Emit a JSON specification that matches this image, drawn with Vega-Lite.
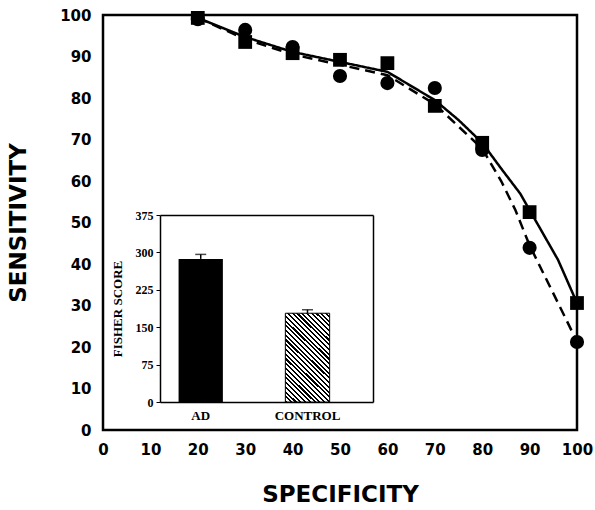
{
  "$schema": "https://vega.github.io/schema/vega-lite/v6.json",
  "width": 474,
  "height": 415,
  "autosize": {"type": "none"},
  "padding": {"left": 103, "top": 15, "right": 18, "bottom": 80},
  "background": "white",
  "config": {
    "view": {"stroke": "black", "strokeWidth": 2.5},
    "axis": {"grid": false, "labelColor": "black", "titleColor": "black"}
  },
  "datasets": {
    "roc": [
      {"specificity": 20, "sensitivity": 99.3, "marker": "square"},
      {"specificity": 30, "sensitivity": 93.5, "marker": "square"},
      {"specificity": 40, "sensitivity": 90.8, "marker": "square"},
      {"specificity": 50, "sensitivity": 89.2, "marker": "square"},
      {"specificity": 60, "sensitivity": 88.4, "marker": "square"},
      {"specificity": 70, "sensitivity": 78.1, "marker": "square"},
      {"specificity": 80, "sensitivity": 69.2, "marker": "square"},
      {"specificity": 90, "sensitivity": 52.5, "marker": "square"},
      {"specificity": 100, "sensitivity": 30.6, "marker": "square"},
      {"specificity": 20, "sensitivity": 99.0, "marker": "circle"},
      {"specificity": 30, "sensitivity": 96.4, "marker": "circle"},
      {"specificity": 40, "sensitivity": 92.3, "marker": "circle"},
      {"specificity": 50, "sensitivity": 85.3, "marker": "circle"},
      {"specificity": 60, "sensitivity": 83.6, "marker": "circle"},
      {"specificity": 70, "sensitivity": 82.4, "marker": "circle"},
      {"specificity": 80, "sensitivity": 67.5, "marker": "circle"},
      {"specificity": 90, "sensitivity": 43.9, "marker": "circle"},
      {"specificity": 100, "sensitivity": 21.2, "marker": "circle"}
    ],
    "curves": [
      {"specificity": 20, "sensitivity": 99.3, "curve": "solid"},
      {"specificity": 25, "sensitivity": 97.0, "curve": "solid"},
      {"specificity": 30, "sensitivity": 94.7, "curve": "solid"},
      {"specificity": 40, "sensitivity": 91.1, "curve": "solid"},
      {"specificity": 50, "sensitivity": 88.7, "curve": "solid"},
      {"specificity": 60, "sensitivity": 86.3, "curve": "solid"},
      {"specificity": 70, "sensitivity": 79.5, "curve": "solid"},
      {"specificity": 75, "sensitivity": 74.7, "curve": "solid"},
      {"specificity": 80, "sensitivity": 69.2, "curve": "solid"},
      {"specificity": 84, "sensitivity": 63.0, "curve": "solid"},
      {"specificity": 88, "sensitivity": 57.0, "curve": "solid"},
      {"specificity": 90, "sensitivity": 53.0, "curve": "solid"},
      {"specificity": 96, "sensitivity": 41.0, "curve": "solid"},
      {"specificity": 100, "sensitivity": 30.6, "curve": "solid"},
      {"specificity": 20, "sensitivity": 99.3, "curve": "dashed"},
      {"specificity": 30, "sensitivity": 94.2, "curve": "dashed"},
      {"specificity": 40, "sensitivity": 90.5, "curve": "dashed"},
      {"specificity": 50, "sensitivity": 88.0, "curve": "dashed"},
      {"specificity": 60, "sensitivity": 85.5, "curve": "dashed"},
      {"specificity": 70, "sensitivity": 78.5, "curve": "dashed"},
      {"specificity": 80, "sensitivity": 67.8, "curve": "dashed"},
      {"specificity": 84, "sensitivity": 60.0, "curve": "dashed"},
      {"specificity": 87, "sensitivity": 53.0, "curve": "dashed"},
      {"specificity": 90, "sensitivity": 44.5, "curve": "dashed"},
      {"specificity": 98.5, "sensitivity": 24.8, "curve": "dashed"},
      {"specificity": 100, "sensitivity": 21.2, "curve": "dashed"}
    ],
    "fisher": [
      {"group": "AD", "score": 287, "upper": 296},
      {"group": "CONTROL", "score": 178, "upper": 185}
    ]
  },
  "layer": [
    {
      "encoding": {
        "x": {
          "field": "specificity", "type": "quantitative",
          "scale": {"domain": [0, 100], "nice": false},
          "axis": {
            "orient": "bottom", "values": [0, 10, 20, 30, 40, 50, 60, 70, 80, 90, 100],
            "ticks": false, "domain": false, "labelFlush": false,
            "labelFont": "DejaVu Sans", "labelFontWeight": "bold", "labelFontSize": 15, "labelPadding": 12,
            "title": "SPECIFICITY", "titleFont": "DejaVu Sans", "titleFontWeight": "bold", "titleFontSize": 23, "titlePadding": 26
          }
        },
        "y": {
          "field": "sensitivity", "type": "quantitative",
          "scale": {"domain": [0, 100], "nice": false},
          "axis": {
            "orient": "left", "values": [0, 10, 20, 30, 40, 50, 60, 70, 80, 90, 100],
            "ticks": false, "domain": false, "labelFlush": false,
            "labelFont": "DejaVu Sans", "labelFontWeight": "bold", "labelFontSize": 15, "labelPadding": 12,
            "title": "SENSITIVITY", "titleFont": "DejaVu Sans", "titleFontWeight": "bold", "titleFontSize": 23, "titlePadding": 29
          }
        }
      },
      "layer": [
        {
          "data": {"name": "curves"},
          "mark": {"type": "line", "color": "black", "strokeWidth": 2.5},
          "encoding": {
            "strokeDash": {
              "field": "curve", "type": "nominal",
              "scale": {"domain": ["solid", "dashed"], "range": [[1, 0], [10, 6]]},
              "legend": null
            }
          }
        },
        {
          "data": {"name": "roc"},
          "mark": {"type": "point", "filled": true, "color": "black", "opacity": 1},
          "encoding": {
            "shape": {
              "field": "marker", "type": "nominal",
              "scale": {"domain": ["square", "circle"], "range": ["square", "circle"]},
              "legend": null
            },
            "size": {
              "field": "marker", "type": "nominal",
              "scale": {"domain": ["square", "circle"], "range": [190, 200]},
              "legend": null
            }
          }
        }
      ]
    },
    {
      "data": {"name": "fisher"},
      "encoding": {
        "x": {
          "field": "group", "type": "nominal",
          "scale": {"domain": ["AD", "CONTROL"], "range": [57, 270], "paddingInner": 0.585, "paddingOuter": 0.29, "align": 0.3},
          "axis": {
            "orient": "bottom", "offset": -28, "title": null, "labelAngle": 0, "ticks": false,
            "domainColor": "black", "domainWidth": 1.5,
            "labelFont": "Liberation Serif", "labelFontWeight": "bold", "labelFontSize": 13, "labelPadding": 7
          }
        },
        "y": {
          "field": "score", "type": "quantitative",
          "scale": {"domain": [0, 375], "range": [387, 200], "nice": false},
          "axis": {
            "orient": "left", "offset": -57, "values": [0, 75, 150, 225, 300, 375],
            "tickSize": 4, "tickColor": "black", "domainColor": "black", "domainWidth": 1.5, "labelFlush": false,
            "labelFont": "Liberation Serif", "labelFontWeight": "bold", "labelFontSize": 12, "labelPadding": 3,
            "title": "FISHER SCORE", "titleFont": "Liberation Serif", "titleFontWeight": "bold", "titleFontSize": 13, "titlePadding": 11
          }
        }
      },
      "layer": [
        {
          "transform": [{"filter": "datum.group === 'AD'"}],
          "mark": {"type": "bar", "color": "black"}
        },
        {
          "transform": [{"filter": "datum.group === 'CONTROL'"}],
          "mark": {
            "type": "bar", "stroke": "black", "strokeWidth": 1,
            "fill": {
              "gradient": "linear", "x1": 0, "y1": 1, "x2": 0.593, "y2": -0.2,
              "stops": [
                {"offset": 0, "color": "black"}, {"offset": 0.016, "color": "black"}, {"offset": 0.016, "color": "white"}, {"offset": 0.0357, "color": "white"},
                {"offset": 0.0357, "color": "black"}, {"offset": 0.0517, "color": "black"}, {"offset": 0.0517, "color": "white"}, {"offset": 0.0714, "color": "white"},
                {"offset": 0.0714, "color": "black"}, {"offset": 0.0874, "color": "black"}, {"offset": 0.0874, "color": "white"}, {"offset": 0.1071, "color": "white"},
                {"offset": 0.1071, "color": "black"}, {"offset": 0.1231, "color": "black"}, {"offset": 0.1231, "color": "white"}, {"offset": 0.1429, "color": "white"},
                {"offset": 0.1429, "color": "black"}, {"offset": 0.1589, "color": "black"}, {"offset": 0.1589, "color": "white"}, {"offset": 0.1786, "color": "white"},
                {"offset": 0.1786, "color": "black"}, {"offset": 0.1946, "color": "black"}, {"offset": 0.1946, "color": "white"}, {"offset": 0.2143, "color": "white"},
                {"offset": 0.2143, "color": "black"}, {"offset": 0.2303, "color": "black"}, {"offset": 0.2303, "color": "white"}, {"offset": 0.25, "color": "white"},
                {"offset": 0.25, "color": "black"}, {"offset": 0.266, "color": "black"}, {"offset": 0.266, "color": "white"}, {"offset": 0.2857, "color": "white"},
                {"offset": 0.2857, "color": "black"}, {"offset": 0.3017, "color": "black"}, {"offset": 0.3017, "color": "white"}, {"offset": 0.3214, "color": "white"},
                {"offset": 0.3214, "color": "black"}, {"offset": 0.3374, "color": "black"}, {"offset": 0.3374, "color": "white"}, {"offset": 0.3571, "color": "white"},
                {"offset": 0.3571, "color": "black"}, {"offset": 0.3731, "color": "black"}, {"offset": 0.3731, "color": "white"}, {"offset": 0.3929, "color": "white"},
                {"offset": 0.3929, "color": "black"}, {"offset": 0.4089, "color": "black"}, {"offset": 0.4089, "color": "white"}, {"offset": 0.4286, "color": "white"},
                {"offset": 0.4286, "color": "black"}, {"offset": 0.4446, "color": "black"}, {"offset": 0.4446, "color": "white"}, {"offset": 0.4643, "color": "white"},
                {"offset": 0.4643, "color": "black"}, {"offset": 0.4803, "color": "black"}, {"offset": 0.4803, "color": "white"}, {"offset": 0.5, "color": "white"},
                {"offset": 0.5, "color": "black"}, {"offset": 0.516, "color": "black"}, {"offset": 0.516, "color": "white"}, {"offset": 0.5357, "color": "white"},
                {"offset": 0.5357, "color": "black"}, {"offset": 0.5517, "color": "black"}, {"offset": 0.5517, "color": "white"}, {"offset": 0.5714, "color": "white"},
                {"offset": 0.5714, "color": "black"}, {"offset": 0.5874, "color": "black"}, {"offset": 0.5874, "color": "white"}, {"offset": 0.6071, "color": "white"},
                {"offset": 0.6071, "color": "black"}, {"offset": 0.6231, "color": "black"}, {"offset": 0.6231, "color": "white"}, {"offset": 0.6429, "color": "white"},
                {"offset": 0.6429, "color": "black"}, {"offset": 0.6589, "color": "black"}, {"offset": 0.6589, "color": "white"}, {"offset": 0.6786, "color": "white"},
                {"offset": 0.6786, "color": "black"}, {"offset": 0.6946, "color": "black"}, {"offset": 0.6946, "color": "white"}, {"offset": 0.7143, "color": "white"},
                {"offset": 0.7143, "color": "black"}, {"offset": 0.7303, "color": "black"}, {"offset": 0.7303, "color": "white"}, {"offset": 0.75, "color": "white"},
                {"offset": 0.75, "color": "black"}, {"offset": 0.766, "color": "black"}, {"offset": 0.766, "color": "white"}, {"offset": 0.7857, "color": "white"},
                {"offset": 0.7857, "color": "black"}, {"offset": 0.8017, "color": "black"}, {"offset": 0.8017, "color": "white"}, {"offset": 0.8214, "color": "white"},
                {"offset": 0.8214, "color": "black"}, {"offset": 0.8374, "color": "black"}, {"offset": 0.8374, "color": "white"}, {"offset": 0.8571, "color": "white"},
                {"offset": 0.8571, "color": "black"}, {"offset": 0.8731, "color": "black"}, {"offset": 0.8731, "color": "white"}, {"offset": 0.8929, "color": "white"},
                {"offset": 0.8929, "color": "black"}, {"offset": 0.9089, "color": "black"}, {"offset": 0.9089, "color": "white"}, {"offset": 0.9286, "color": "white"},
                {"offset": 0.9286, "color": "black"}, {"offset": 0.9446, "color": "black"}, {"offset": 0.9446, "color": "white"}, {"offset": 0.9643, "color": "white"},
                {"offset": 0.9643, "color": "black"}, {"offset": 0.9803, "color": "black"}, {"offset": 0.9803, "color": "white"}, {"offset": 1, "color": "white"}
              ]
            }
          }
        }
      ]
    },
    {
      "data": {"name": "fisher"},
      "encoding": {
        "x": {
          "field": "group", "type": "nominal",
          "scale": {"domain": ["AD", "CONTROL"], "range": [57, 270], "paddingInner": 0.585, "paddingOuter": 0.29, "align": 0.3},
          "axis": {
            "orient": "top", "offset": -200, "title": null, "labels": false, "ticks": false,
            "domainColor": "black", "domainWidth": 1.5
          }
        }
      },
      "layer": [
        {
          "mark": {"type": "rule", "color": "black", "strokeWidth": 1.5},
          "encoding": {
            "y": {
              "field": "score", "type": "quantitative",
              "scale": {"domain": [0, 375], "range": [387, 200], "nice": false},
              "axis": {
                "orient": "right", "offset": -204, "title": null, "labels": false, "ticks": false,
                "domainColor": "black", "domainWidth": 1.5
              }
            },
            "y2": {"field": "upper"}
          }
        },
        {
          "mark": {"type": "tick", "color": "black", "thickness": 1.5, "size": 11},
          "encoding": {
            "y": {"field": "upper", "type": "quantitative"}
          }
        }
      ]
    }
  ],
  "resolve": {
    "scale": {"x": "independent", "y": "independent"},
    "axis": {"x": "independent", "y": "independent"}
  }
}
